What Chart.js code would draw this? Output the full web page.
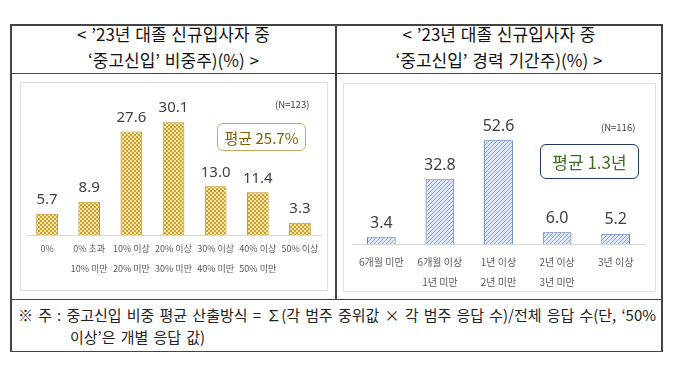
<!DOCTYPE html>
<html><head><meta charset="utf-8">
<script src="https://cdn.jsdelivr.net/npm/chart.js@4"></script>
<style>
html,body{margin:0;padding:0;background:#fff;}
body{width:680px;height:366px;position:relative;overflow:hidden;font-family:"Noto Sans CJK KR","Noto Sans",sans-serif;}
.abs{position:absolute;}
.line{position:absolute;background:#444;}
.title{position:absolute;text-align:center;font-size:17px;line-height:26px;color:#111;white-space:nowrap;word-spacing:1px;}
.frame{position:absolute;border:1px solid #e0e0e0;box-sizing:border-box;}
.note{position:absolute;font-size:9.5px;color:#404040;white-space:nowrap;}
.avg{position:absolute;box-sizing:border-box;border-radius:6px;display:flex;align-items:center;justify-content:center;white-space:nowrap;}
.foot{position:absolute;font-size:15px;color:#222;white-space:nowrap;word-spacing:1.8px;}
</style></head>
<body>
<div class="line" style="left:10px;top:24px;width:653px;height:1.5px"></div>
<div class="line" style="left:10px;top:72.5px;width:653px;height:1.5px"></div>
<div class="line" style="left:10px;top:298.5px;width:653px;height:1.5px"></div>
<div class="line" style="left:10px;top:350.5px;width:653px;height:1.5px"></div>
<div class="line" style="left:10px;top:24px;width:1.5px;height:328px"></div>
<div class="line" style="left:661px;top:24px;width:1.5px;height:328px"></div>
<div class="line" style="left:335px;top:24px;width:1.5px;height:275px"></div>

<div class="title" style="left:11px;width:325px;top:21px">&lt; ’23년 대졸 신규입사자 중<br>‘중고신입’ 비중주)(%) &gt;</div>
<div class="title" style="left:336px;width:326px;top:21px">&lt; ’23년 대졸 신규입사자 중<br>‘중고신입’ 경력 기간주)(%) &gt;</div>

<div class="frame" style="left:20px;top:82px;width:308px;height:209px"></div>
<div class="frame" style="left:343px;top:83px;width:313px;height:209px"></div>

<div class="abs" style="left:20px;top:80px;width:307px;height:205px"><canvas id="c1"></canvas></div>
<div class="abs" style="left:346px;top:100px;width:305px;height:192px"><canvas id="c2"></canvas></div>

<div class="note" style="left:275px;top:97px">(N=123)</div>
<div class="note" style="left:601px;top:120px">(N=116)</div>

<div class="avg" style="left:217px;top:123px;width:89px;height:28px;border:1.5px solid #C8A862;color:#7F6000;font-size:15px">평균 25.7%</div>
<div class="avg" style="left:540px;top:144px;width:99px;height:35px;border:1.5px solid #1F3864;color:#3B6E22;font-size:17px">평균 1.3년</div>

<div class="foot" style="left:18px;top:304px">※ 주 : 중고신입 비중 평균 산출방식 = ∑(각 범주 중위값 × 각 범주 응답 수)/전체 응답 수(단, ‘50%</div>
<div class="foot" style="left:70px;top:326px">이상’은 개별 응답 값)</div>

<script>
const shareLabels = [["0%"],["0% 초과","10% 미만"],["10% 이상","20% 미만"],["20% 이상","30% 미만"],["30% 이상","40% 미만"],["40% 이상","50% 미만"],["50% 이상"]];
const shareValues = [5.7, 8.9, 27.6, 30.1, 13.0, 11.4, 3.3];
const careerLabels = [["6개월 미만"],["6개월 이상","1년 미만"],["1년 이상","2년 미만"],["2년 이상","3년 미만"],["3년 이상"]];
const careerValues = [3.4, 32.8, 52.6, 6.0, 5.2];

function checkerPattern(){
  const t=document.createElement('canvas');t.width=4;t.height=4;
  const x=t.getContext('2d');
  x.fillStyle='#F4E4A8';x.fillRect(0,0,4,4);
  x.fillStyle='#C9A232';
  x.fillRect(0,0,2,2);x.fillRect(2,2,2,2);
  return x.createPattern(t,'repeat');
}
function hatchPattern(){
  const t=document.createElement('canvas');t.width=4;t.height=4;
  const x=t.getContext('2d');
  x.fillStyle='#DCE6F5';x.fillRect(0,0,4,4);
  x.fillStyle='#8EA8D8';
  for(let i=0;i<4;i++){x.fillRect(3-i,i,1,1);}
  return x.createPattern(t,'repeat');
}

const valueLabels = {
  id:'valueLabels',
  afterDatasetsDraw(chart, args, opts){
    const ctx=chart.ctx;
    const meta=chart.getDatasetMeta(0);
    const ds=chart.data.datasets[0];
    ctx.save();
    ctx.font=opts.size+'px "Noto Sans", "Noto Sans CJK KR", sans-serif';
    ctx.fillStyle='#404040';
    ctx.textAlign='center';
    ctx.textBaseline='middle';
    meta.data.forEach((bar,i)=>{
      ctx.fillText(ds.data[i].toFixed(1), bar.x, bar.y - opts.offset);
    });
    ctx.restore();
  }
};

function makeChart(id, labels, values, fill, border, yMax, padTop, tickPad, barPct, labelSize, padSide, tickSize, axisH){
  return new Chart(document.getElementById(id), {
    type:'bar',
    data:{labels:labels, datasets:[{data:values, backgroundColor:fill, borderColor:border, borderWidth:1, categoryPercentage:1, barPercentage:barPct}]},
    options:{
      responsive:true, maintainAspectRatio:false, animation:false,
      layout:{padding:{top:padTop,left:padSide,right:padSide,bottom:0}},
      plugins:{legend:{display:false}, tooltip:{enabled:false}, valueLabels:{size:labelSize, offset:14}},
      scales:{
        x:{grid:{display:false, drawTicks:false}, border:{display:true,color:'#d9d9d9',width:1},
           afterFit(s){ s.height = axisH; },
           ticks:{color:'#595959', padding:tickPad, maxRotation:0, autoSkip:false, font:{size:tickSize, lineHeight:'20px', family:'"Noto Sans CJK KR", sans-serif'}}},
        y:{display:false, min:0, max:yMax}
      }
    },
    plugins:[valueLabels]
  });
}

makeChart('c1', shareLabels, shareValues, checkerPattern(), '#B8922A', 40, 5, 4, 0.515, 15, 6, 9, 50);
makeChart('c2', careerLabels, careerValues, hatchPattern(), '#4A6FB5', 70, 6, 8, 0.49, 16, 6, 10, 48);
</script>
</body></html>
